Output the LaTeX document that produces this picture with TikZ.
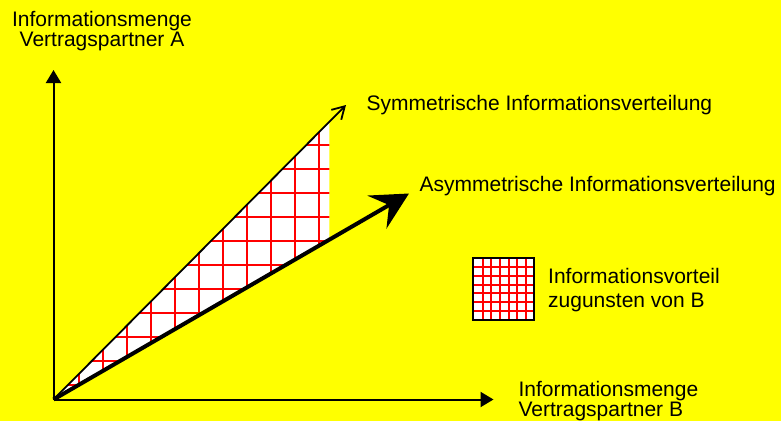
\documentclass[tikz,border=0pt]{standalone}
\usepackage{fontspec}
\setmainfont{Liberation Sans}
\usetikzlibrary{arrows.meta}
\definecolor{bgyellow}{RGB}{255,255,0}
\definecolor{gridred}{RGB}{255,0,0}
\begin{document}
\begin{tikzpicture}[x=1pt,y=-1pt,
  axis/.style={line width=2pt,-{Triangle[length=13pt,width=15pt]}},
  symline/.style={line width=1.8pt,-{Straight Barb[length=12pt,width=14pt,line width=1.8pt]}},
  asymline/.style={line width=4pt,-{Stealth[length=37pt,width=38pt,inset=14pt]}},
  gridline/.style={draw=gridred,line width=1.2pt},
  lbl/.style={inner sep=0pt,font=\fontsize{21pt}{20pt}\selectfont},
]
\useasboundingbox[fill=bgyellow] (0,0) rectangle (781,421);

% coordinates
\coordinate (O) at (53.5,399.5);
\coordinate (Ytip) at (53.5,70);
\coordinate (Xtip) at (493.5,399.5);
\coordinate (Stip) at (346,105);
\coordinate (Atip) at (409,193.5);
\coordinate (Stop) at (329.3,121.8);
\coordinate (Abot) at (329.3,239.3);

% hatched region
\begin{scope}
  \clip (O) -- (Stop) -- (Abot) -- cycle;
  \fill[white] (O) -- (Stop) -- (Abot) -- cycle;
  \foreach \k in {0,...,10} {
    \draw[gridline] ({79+24*\k},100) -- ({79+24*\k},410);
    \draw[gridline] (40,{385-24*\k}) -- (340,{385-24*\k});
  }
\end{scope}

% lines
\draw[symline] (O) -- (Stip);
\draw[asymline] (O) -- (Atip);
\draw[axis] (O) -- (Ytip);
\draw[axis] (O) -- (Xtip);

% legend box
\node[fill=white,minimum width=60pt,minimum height=61pt,inner sep=0pt] (legbox) at (503.3,288.8) {};
\begin{scope}
  \clip (legbox.south west) rectangle (legbox.north east);
  \foreach \x in {483,491,500,509,517,526} {
    \draw[gridline] (\x,258) -- (\x,320);
  }
  \foreach \y in {267,276,285,293,302,311} {
    \draw[gridline] (473,\y) -- (534,\y);
  }
\end{scope}
\draw[line width=2pt] (legbox.south west) rectangle (legbox.north east);

% labels
\node[lbl,align=center,anchor=base] (labA) at (102,46.7) {Informationsmenge\\Vertragspartner A};
\node[lbl,align=left,anchor=base west] (labB) at (518.3,416.7) {Informationsmenge\\Vertragspartner B};
\node[lbl,anchor=base west] (labS) at (366.5,110.7) {Symmetrische Informationsverteilung};
\node[lbl,anchor=base west] (labAs) at (419.5,191.7) {Asymmetrische Informationsverteilung};
\node[lbl,align=left,anchor=base west,font=\fontsize{21pt}{24pt}\selectfont] (labL) at (548,307.3) {Informationsvorteil\\zugunsten von B};
\end{tikzpicture}
\end{document}
